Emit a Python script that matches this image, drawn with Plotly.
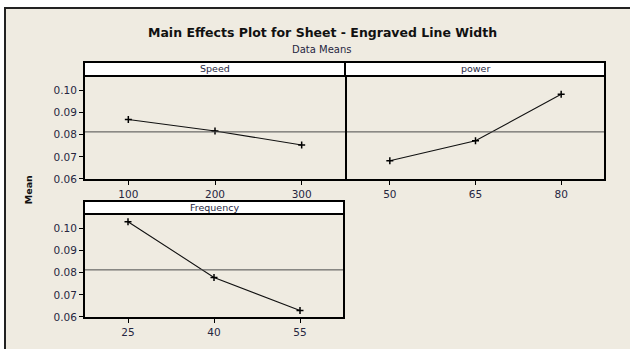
import plotly.graph_objects as go

# ---- data ----
speed_levels = [100, 200, 300]
speed_means = [0.0869, 0.0817, 0.0754]
power_levels = [50, 65, 80]
power_means = [0.0682, 0.0773, 0.0983]
freq_levels = [25, 40, 55]
freq_means = [0.1031, 0.0779, 0.0629]
panel_titles = ["Speed", "power", "Frequency"]
y_ticks = [0.06, 0.07, 0.08, 0.09, 0.10]
title = "Main Effects Plot for Sheet - Engraved Line Width"
subtitle = "Data Means"

all_vals = speed_means + power_means + freq_means
grand_mean = sum(all_vals) / len(all_vals)

W, H = 630, 349
BG = "#EFEBE1"
TXT = "#26263f"
FONT = "DejaVu Sans"

def px(x):
    return x / W

def py(y):
    return 1 - y / H

fig = go.Figure()

panels = [
    (speed_levels, speed_means, "x", "y", (85, 345), (78, 182), True, "ticks"),
    (power_levels, power_means, "x2", "y2", (347, 604), (78, 182), False, True),
    (freq_levels, freq_means, "x3", "y3", (85, 343), (218, 322), True, True),
]

for lv, mv, xa, ya, (xl, xr), (yt, yb), showy, ymirror in panels:
    fig.add_trace(go.Scatter(
        x=lv, y=mv, xaxis=xa, yaxis=ya, mode="lines+markers",
        line=dict(color="#111111", width=1.1),
        marker=dict(symbol="cross-thin", size=5, line=dict(color="#000000", width=1.5)),
        showlegend=False, hoverinfo="skip"))
    n = "" if xa == "x" else xa[1:]
    step = lv[1] - lv[0]
    axx = dict(domain=[px(xl), px(xr)], range=[lv[0] - step / 2, lv[-1] + step / 2],
               tickvals=lv, ticks="outside", ticklen=4, tickcolor="#000",
               showline=True, linecolor="#000", linewidth=2, mirror=True,
               showgrid=False, zeroline=False, anchor="y" + n,
               tickfont=dict(family=FONT, size=10.5, color=TXT))
    axy = dict(domain=[py(yb), py(yt)], range=[0.0598, 0.1062],
               tickvals=y_ticks, tickformat=".2f",
               ticks="outside" if showy else "", ticklen=4, tickcolor="#000",
               showticklabels=showy,
               showline=True, linecolor="#000", linewidth=2,
               mirror=(ymirror is True),
               showgrid=False, zeroline=False, anchor="x" + n,
               tickfont=dict(family=FONT, size=10.5, color=TXT))
    fig.layout["xaxis" + n] = axx
    fig.layout["yaxis" + n] = axy
    fig.add_shape(type="line", xref=xa + " domain", x0=0, x1=1, yref=ya,
                  y0=grand_mean, y1=grand_mean, line=dict(color="#4a4a4a", width=1))

shapes = []
# outer frame
shapes.append(dict(type="rect", xref="paper", yref="paper", x0=px(5), x1=px(660),
                   y0=py(370), y1=py(8), fillcolor=BG, line=dict(color="#222222", width=2),
                   layer="below"))
# strips
for (xl, xr), (yt, yb), name in [((84, 345), (63, 77), panel_titles[0]),
                                 ((345, 605), (63, 77), panel_titles[1]),
                                 ((84, 344), (204, 217), panel_titles[2])]:
    shapes.append(dict(type="rect", xref="paper", yref="paper", x0=px(xl), x1=px(xr),
                       y0=py(yb), y1=py(yt), fillcolor="white",
                       line=dict(color="#000", width=2)))
    fig.add_annotation(x=px((xl + xr) / 2), y=py((yt + yb) / 2), xref="paper", yref="paper",
                       text=name, showarrow=False, font=dict(family=FONT, size=9.5, color=TXT),
                       xanchor="center", yanchor="middle")
fig.update_layout(shapes=list(fig.layout.shapes) + shapes)

fig.add_annotation(x=px(322), y=py(33), xref="paper", yref="paper", text="<b>" + title + "</b>",
                   showarrow=False, font=dict(family=FONT, size=12.5, color="#111"),
                   xanchor="center", yanchor="middle")
fig.add_annotation(x=px(322), y=py(50), xref="paper", yref="paper", text=subtitle,
                   showarrow=False, font=dict(family=FONT, size=10, color=TXT),
                   xanchor="center", yanchor="middle")
fig.add_annotation(x=px(28), y=py(193), xref="paper", yref="paper", text="<b>Mean</b>",
                   showarrow=False, textangle=-90, font=dict(family=FONT, size=9.5, color="#111"),
                   xanchor="center", yanchor="middle")

fig.update_layout(width=W, height=H, margin=dict(l=0, r=0, t=0, b=0),
                  paper_bgcolor="white", plot_bgcolor="white")
fig.write_html("out.html", post_script="document.body.style.margin='0';",
               config={"displayModeBar": False})
